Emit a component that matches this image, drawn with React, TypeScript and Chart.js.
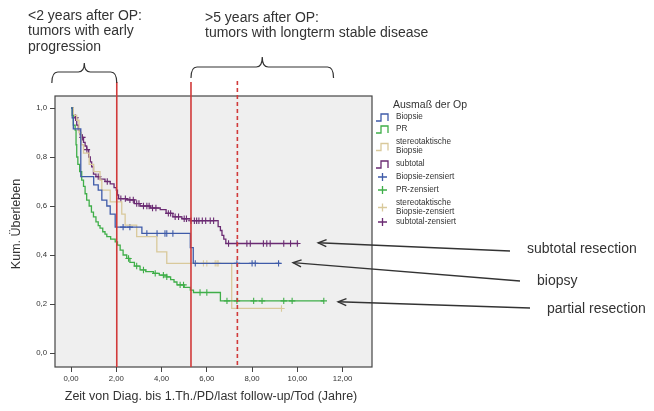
import React, { useEffect, useRef } from "react";
import { Chart, registerables } from "chart.js";

Chart.register(...registerables);

// Kaplan-Meier step curves: time (years) and cumulative survival after each event
const biopsieTimes = [0, 0.05, 0.1, 0.43, 1.0, 1.2, 1.36, 1.58, 1.73, 1.95, 3.13, 5.27, 5.4, 9.25];
const biopsieSurv = [1.0, 0.96, 0.915, 0.72, 0.686, 0.665, 0.624, 0.6, 0.567, 0.514, 0.488, 0.43, 0.366, 0.366];

const prTimes = [0, 0.05, 0.1, 0.18, 0.22, 0.25, 0.3, 0.38, 0.47, 0.55, 0.62, 0.69, 0.8, 0.9, 0.99, 1.1, 1.2, 1.28, 1.4, 1.5, 1.58, 1.75, 1.95, 2.05, 2.17, 2.3, 2.46, 2.6, 2.8, 3.05, 3.3, 3.64, 3.9, 4.23, 4.4, 4.55, 4.68, 5.0, 5.27, 5.41, 6.6, 11.17];
const prSurv = [1.0, 0.97, 0.93, 0.91, 0.85, 0.8, 0.77, 0.74, 0.706, 0.68, 0.65, 0.624, 0.6, 0.575, 0.556, 0.535, 0.52, 0.51, 0.495, 0.485, 0.475, 0.465, 0.454, 0.44, 0.42, 0.4, 0.386, 0.37, 0.355, 0.339, 0.332, 0.325, 0.318, 0.311, 0.3, 0.29, 0.278, 0.268, 0.257, 0.247, 0.213, 0.213];

const stereoTimes = [0, 0.1, 0.25, 0.35, 0.45, 0.55, 0.8, 1.0, 1.28, 1.36, 1.73, 2.24, 2.39, 2.9, 3.79, 4.23, 7.1, 9.32];
const stereoSurv = [1.0, 0.97, 0.95, 0.9, 0.85, 0.816, 0.77, 0.74, 0.706, 0.665, 0.617, 0.567, 0.522, 0.475, 0.413, 0.366, 0.182, 0.182];

const subtotalTimes = [0, 0.1, 0.18, 0.25, 0.32, 0.4, 0.47, 0.55, 0.62, 0.69, 0.78, 0.85, 0.91, 0.99, 1.1, 1.28, 1.5, 1.73, 1.9, 2.0, 2.05, 2.1, 2.46, 2.8, 3.05, 3.5, 3.94, 4.2, 4.5, 4.9, 5.27, 6.5, 6.6, 6.67, 6.75, 6.84, 10.05];
const subtotalSurv = [1.0, 0.97, 0.96, 0.93, 0.91, 0.89, 0.88, 0.86, 0.845, 0.83, 0.8, 0.78, 0.76, 0.73, 0.72, 0.71, 0.7, 0.69, 0.675, 0.665, 0.645, 0.63, 0.625, 0.61, 0.6, 0.592, 0.585, 0.57, 0.556, 0.548, 0.54, 0.516, 0.5, 0.48, 0.465, 0.447, 0.447];

// Censoring times (years)
const biopsieCensored = [2.3, 2.6, 3.35, 3.8, 4.15, 4.23, 4.5, 5.49, 7.33, 8.0, 8.14, 9.17];
const prCensored = [2.54, 2.9, 3.2, 3.72, 4.08, 4.23, 4.82, 4.97, 5.7, 6.0, 6.89, 7.33, 8.07, 8.44, 9.4, 9.77, 11.17];
const stereoCensored = [5.85, 6.0, 6.37, 6.45, 6.5, 9.3];
const subtotalCensored = [0.2, 0.5, 0.7, 1.2, 1.6, 2.2, 2.4, 2.6, 2.75, 2.9, 3.0, 3.2, 3.35, 3.45, 3.6, 3.75, 4.3, 4.4, 4.6, 4.75, 5.0, 5.1, 5.3, 5.45, 5.55, 5.65, 5.8, 5.95, 6.15, 6.3, 6.96, 7.33, 7.77, 7.92, 8.5, 8.65, 8.8, 9.4, 9.7, 10.0];

const yTicks = [0, 0.2, 0.4, 0.6, 0.8, 1.0];
const xTicks = [0, 2, 4, 6, 8, 10, 12];

// Reference lines (years after surgery)
const markerSolid = [2.02, 5.3];
const markerDashed = [7.35];

const legendItems = [
  { kind: "line", color: "#3f5ba9", lines: ["Biopsie"] },
  { kind: "line", color: "#3fae49", lines: ["PR"] },
  { kind: "line", color: "#d9c99b", lines: ["stereotaktische", "Biopsie"] },
  { kind: "line", color: "#6a2a72", lines: ["subtotal"] },
  { kind: "cross", color: "#3f5ba9", lines: ["Biopsie-zensiert"] },
  { kind: "cross", color: "#3fae49", lines: ["PR-zensiert"] },
  { kind: "cross", color: "#d9c99b", lines: ["stereotaktische", "Biopsie-zensiert"] },
  { kind: "cross", color: "#6a2a72", lines: ["subtotal-zensiert"] },
];

const callouts = [
  { text: "subtotal resection", tip: { x: 10.92, y: 0.45 }, tail: [510, 251], label: [527, 249] },
  { text: "biopsy", tip: { x: 9.81, y: 0.369 }, tail: [520, 281], label: [537, 281] },
  { text: "partial resection", tip: { x: 11.8, y: 0.209 }, tail: [530, 308], label: [547, 309] },
];

const FONT = "'Liberation Sans', Arial, sans-serif";
const INK = "#333333";

function toPoints(times: number[], surv: number[]) {
  return times.map((t, i) => ({ x: t, y: surv[i] }));
}

function survivalAt(times: number[], surv: number[], t: number) {
  let v = surv[0];
  for (let i = 0; i < times.length; i++) {
    if (times[i] <= t) v = surv[i];
  }
  return v;
}

function censorPoints(times: number[], surv: number[], cens: number[]) {
  return cens.map((t) => ({ x: t, y: survivalAt(times, surv, t) }));
}

const overlay = {
  id: "overlay",
  beforeDatasetsDraw(chart: any) {
    const { ctx, chartArea: a } = chart;
    ctx.save();
    ctx.fillStyle = "#efefef";
    ctx.fillRect(a.left, a.top, a.right - a.left, a.bottom - a.top);
    ctx.restore();
  },
  afterDatasetsDraw(chart: any) {
    const { ctx, chartArea: a, scales } = chart;
    const xs = scales.x;
    const ys = scales.y;
    ctx.save();

    // plot frame
    ctx.strokeStyle = "#444";
    ctx.lineWidth = 1.2;
    ctx.strokeRect(a.left, a.top, a.right - a.left, a.bottom - a.top);

    // reference lines
    ctx.strokeStyle = "#d13a3a";
    ctx.lineWidth = 1.6;
    markerSolid.forEach((v) => {
      const px = xs.getPixelForValue(v);
      ctx.beginPath();
      ctx.moveTo(px, 82);
      ctx.lineTo(px, a.bottom);
      ctx.stroke();
    });
    ctx.setLineDash([4, 3]);
    markerDashed.forEach((v) => {
      const px = xs.getPixelForValue(v);
      ctx.beginPath();
      ctx.moveTo(px, 81);
      ctx.lineTo(px, a.bottom);
      ctx.stroke();
    });
    ctx.setLineDash([]);

    // curly brackets above the plot
    const brace = (x1: number, x2: number, yEnd: number, yBar: number, yTip: number) => {
      const mid = (x1 + x2) / 2;
      ctx.beginPath();
      ctx.moveTo(x1, yEnd);
      ctx.quadraticCurveTo(x1, yBar, x1 + 6, yBar);
      ctx.lineTo(mid - 6, yBar);
      ctx.quadraticCurveTo(mid, yBar, mid, yTip);
      ctx.quadraticCurveTo(mid, yBar, mid + 6, yBar);
      ctx.lineTo(x2 - 6, yBar);
      ctx.quadraticCurveTo(x2, yBar, x2, yEnd);
      ctx.stroke();
    };
    ctx.strokeStyle = "#333";
    ctx.lineWidth = 1.2;
    brace(xs.getPixelForValue(-0.85), xs.getPixelForValue(2.02), 83, 72, 63);
    brace(xs.getPixelForValue(5.3), xs.getPixelForValue(11.6), 78, 67, 57);

    // header texts
    ctx.fillStyle = INK;
    ctx.font = `14px ${FONT}`;
    ctx.textAlign = "left";
    ctx.textBaseline = "middle";
    ["<2 years after OP:", "tumors with early", "progression"].forEach((t, i) => ctx.fillText(t, 28, 16 + i * 15.5));
    [">5 years after OP:", "tumors with longterm stable disease"].forEach((t, i) => ctx.fillText(t, 205, 18 + i * 15.5));

    // axis titles
    ctx.font = `12.5px ${FONT}`;
    ctx.textAlign = "center";
    ctx.fillText("Zeit von Diag. bis 1.Th./PD/last follow-up/Tod (Jahre)", 211, 397);
    ctx.save();
    ctx.translate(17, 224);
    ctx.rotate(-Math.PI / 2);
    ctx.font = `12.5px ${FONT}`;
    ctx.fillText("Kum. Überleben", 0, 0);
    ctx.restore();

    // legend
    ctx.textAlign = "left";
    ctx.font = `10.5px ${FONT}`;
    ctx.fillText("Ausmaß der Op", 393, 105);
    ctx.font = `8.2px ${FONT}`;
    const rows = [117, 129, 142, 164, 177, 190, 203, 222];
    legendItems.forEach((it, i) => {
      const y = it.lines.length > 1 ? rows[i] + 4.5 : rows[i];
      ctx.strokeStyle = it.color;
      ctx.lineWidth = 1.3;
      ctx.beginPath();
      if (it.kind === "line") {
        ctx.moveTo(376, y + 4);
        ctx.lineTo(381, y + 4);
        ctx.lineTo(381, y - 3);
        ctx.lineTo(388, y - 3);
        ctx.lineTo(388, y + 4);
      } else {
        ctx.moveTo(378, y);
        ctx.lineTo(387, y);
        ctx.moveTo(382.5, y - 4);
        ctx.lineTo(382.5, y + 4);
      }
      ctx.stroke();
      ctx.fillStyle = INK;
      it.lines.forEach((l, j) => {
        const ty = it.lines.length > 1 ? rows[i] + j * 9 : rows[i];
        ctx.fillText(l, 396, ty);
      });
    });

    // callouts with arrows
    ctx.strokeStyle = "#333";
    ctx.lineWidth = 1.4;
    ctx.font = `14px ${FONT}`;
    callouts.forEach((c) => {
      const tx = xs.getPixelForValue(c.tip.x);
      const ty = ys.getPixelForValue(c.tip.y);
      const [sx, sy] = c.tail;
      ctx.beginPath();
      ctx.moveTo(sx, sy);
      ctx.lineTo(tx, ty);
      ctx.stroke();
      const ang = Math.atan2(sy - ty, sx - tx);
      const len = 9;
      ctx.beginPath();
      ctx.moveTo(tx + len * Math.cos(ang - 0.4), ty + len * Math.sin(ang - 0.4));
      ctx.lineTo(tx, ty);
      ctx.lineTo(tx + len * Math.cos(ang + 0.4), ty + len * Math.sin(ang + 0.4));
      ctx.stroke();
      ctx.fillStyle = INK;
      ctx.fillText(c.text, c.label[0], c.label[1]);
    });

    ctx.restore();
  },
};

export default function App() {
  const ref = useRef<HTMLCanvasElement | null>(null);

  useEffect(() => {
    if (!ref.current) return;
    const curve = (label: string, color: string, times: number[], surv: number[]) => ({
      type: "line" as const,
      label,
      data: toPoints(times, surv),
      borderColor: color,
      borderWidth: 1.3,
      stepped: "before" as const,
      pointRadius: 0,
      fill: false,
    });
    const marks = (label: string, color: string, times: number[], surv: number[], cens: number[]) => ({
      type: "scatter" as const,
      label,
      data: censorPoints(times, surv, cens),
      borderColor: color,
      backgroundColor: color,
      pointStyle: "cross" as const,
      pointRadius: 3.2,
      borderWidth: 1.1,
      showLine: false,
    });

    const chart = new Chart(ref.current, {
      type: "line",
      data: {
        datasets: [
          curve("Biopsie", "#3f5ba9", biopsieTimes, biopsieSurv),
          curve("PR", "#3fae49", prTimes, prSurv),
          curve("stereotaktische Biopsie", "#d9c99b", stereoTimes, stereoSurv),
          curve("subtotal", "#6a2a72", subtotalTimes, subtotalSurv),
          marks("Biopsie-zensiert", "#3f5ba9", biopsieTimes, biopsieSurv, biopsieCensored),
          marks("PR-zensiert", "#3fae49", prTimes, prSurv, prCensored),
          marks("stereotaktische Biopsie-zensiert", "#d9c99b", stereoTimes, stereoSurv, stereoCensored),
          marks("subtotal-zensiert", "#6a2a72", subtotalTimes, subtotalSurv, subtotalCensored),
        ] as any,
      },
      options: {
        responsive: false,
        animation: false,
        layout: { padding: { top: 96, right: 282, left: 0, bottom: 0 } },
        plugins: { legend: { display: false }, tooltip: { enabled: false } },
        scales: {
          x: {
            type: "linear",
            min: -0.71,
            max: 13.3,
            afterFit: (s: any) => { s.height = 44; },
            afterBuildTicks: (s: any) => { s.ticks = xTicks.map((v) => ({ value: v })); },
            ticks: {
              callback: (v: any) => Number(v).toFixed(2).replace(".", ","),
              font: { family: FONT, size: 7.8 },
              color: INK,
              padding: 2,
              maxRotation: 0,
            },
            grid: { drawOnChartArea: false, tickLength: 5, color: "#444", tickColor: "#444" },
            border: { display: false },
          },
          y: {
            type: "linear",
            min: -0.057,
            max: 1.049,
            afterFit: (s: any) => { s.width = 55; },
            afterBuildTicks: (s: any) => { s.ticks = yTicks.map((v) => ({ value: v })); },
            ticks: {
              callback: (v: any) => Number(v).toFixed(1).replace(".", ","),
              font: { family: FONT, size: 7.8 },
              color: INK,
              padding: 3,
            },
            grid: { drawOnChartArea: false, tickLength: 5, color: "#444", tickColor: "#444" },
            border: { display: false },
          },
        },
      },
      plugins: [overlay],
    });
    return () => chart.destroy();
  }, []);

  return (
    <div style={{ position: "fixed", left: 0, top: 0, width: 654, height: 411, background: "#fff" }}>
      <canvas ref={ref} width={654} height={411} />
    </div>
  );
}
